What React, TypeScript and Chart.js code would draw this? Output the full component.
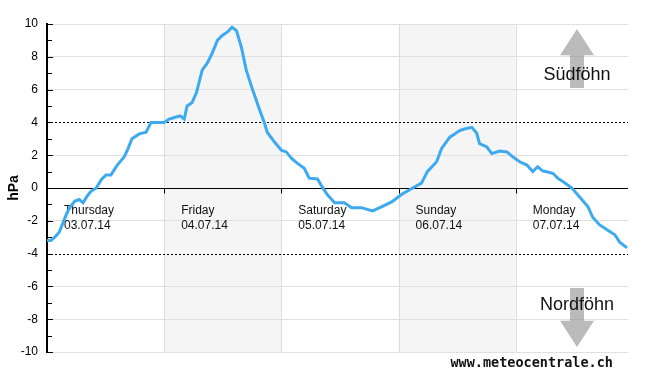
import React, { useEffect, useRef } from "react";
import { Chart, registerables } from "chart.js";

Chart.register(...registerables);

// Time axis in hours since Thursday 03.07.14 00:00
const hours: number[] = [
  0, 0.8, 1.6, 2.5, 3.3, 4.1, 4.9, 5.7, 6.6, 7.4, 8.2, 9.0, 10.1, 11.1, 12.1, 13.1, 14.4, 15.8, 16.6, 17.4,
  18.9, 20.3, 21.3, 22.6, 24.0, 25.0, 26.1, 27.3, 28.1, 28.7, 29.7, 30.6, 31.8, 32.8, 33.8, 34.9, 35.9, 36.9,
  37.9, 38.8, 39.8, 40.8, 42.1, 43.5, 44.5, 45.1, 46.6, 48.0, 49.0, 50.1, 51.3, 52.7, 53.7, 55.4, 56.4, 57.4,
  58.9, 60.9, 62.4, 64.4, 65.6, 66.7, 68.5, 70.6, 72.6, 74.9, 76.7, 77.9, 79.8, 80.8, 82.5, 83.5, 84.5, 85.5,
  87.0, 88.0, 88.6, 90.1, 91.1, 92.7, 94.2, 95.4, 96.8, 98.3, 99.5, 100.5, 101.5, 103.6, 104.6, 106.1, 107.5,
  109.1, 110.8, 111.8, 113.2, 114.7, 116.3, 117.3, 118.8,
];
const pressureDiff: number[] = [
  -3.2, -3.2, -3.0, -2.7, -2.1, -1.5, -1.1, -0.8, -0.7, -0.9, -0.5, -0.2, 0.0, 0.5, 0.8, 0.8, 1.4, 1.9, 2.4, 3.0,
  3.3, 3.4, 4.0, 4.0, 4.0, 4.2, 4.3, 4.4, 4.2, 5.0, 5.2, 5.8, 7.2, 7.6, 8.2, 9.0, 9.3, 9.5,
  9.8, 9.6, 8.6, 7.2, 6.0, 4.8, 4.0, 3.4, 2.8, 2.3, 2.2, 1.8, 1.5, 1.2, 0.6, 0.55, 0.05, -0.4,
  -0.9, -0.9, -1.2, -1.2, -1.3, -1.4, -1.15, -0.85, -0.4, 0.0, 0.3, 1.0, 1.6, 2.4, 3.1, 3.3, 3.5, 3.6,
  3.7, 3.35, 2.7, 2.5, 2.1, 2.25, 2.2, 1.9, 1.6, 1.4, 1.0, 1.3, 1.05, 0.9, 0.6, 0.3, 0.0,
  -0.55, -1.15, -1.8, -2.25, -2.55, -2.85, -3.3, -3.65,
];

const dayStarts: number[] = [0, 24, 48, 72, 96];
const dayNames: string[] = ["Thursday", "Friday", "Saturday", "Sunday", "Monday"];
const dayDates: string[] = ["03.07.14", "04.07.14", "05.07.14", "06.07.14", "07.07.14"];
const shadedDays: number[] = [1, 3];
const thresholds: number[] = [4, -4];
const yTicksMinor: number[] = [-9, -7, -5, -3, -1, 1, 3, 5, 7, 9];
const upLabel = "Südföhn";
const downLabel = "Nordföhn";
const watermark = "www.meteocentrale.ch";
const X_MAX = 119;

const decorPlugin = {
  id: "decor",
  beforeDraw(chart: any) {
    const { ctx, chartArea, scales } = chart;
    const x = scales.x;
    ctx.save();
    ctx.fillStyle = "#f5f5f5";
    shadedDays.forEach((d) => {
      const x0 = x.getPixelForValue(dayStarts[d]);
      const x1 = x.getPixelForValue(Math.min(dayStarts[d] + 24, X_MAX));
      ctx.fillRect(x0, chartArea.top, x1 - x0, chartArea.bottom - chartArea.top);
    });
    ctx.restore();
  },
  beforeDatasetsDraw(chart: any) {
    const { ctx, chartArea, scales } = chart;
    const x = scales.x;
    const y = scales.y;
    ctx.save();
    // vertical day lines
    ctx.strokeStyle = "#dcdcdc";
    ctx.lineWidth = 1;
    dayStarts.slice(1).forEach((h) => {
      const px = Math.round(x.getPixelForValue(h)) + 0.5;
      ctx.beginPath();
      ctx.moveTo(px, chartArea.top);
      ctx.lineTo(px, chartArea.bottom);
      ctx.stroke();
    });
    // zero line
    const y0 = Math.round(y.getPixelForValue(0)) + 0.5;
    ctx.strokeStyle = "#000";
    ctx.beginPath();
    ctx.moveTo(chartArea.left, y0);
    ctx.lineTo(chartArea.right, y0);
    ctx.stroke();
    // day ticks on zero line
    dayStarts.slice(1).forEach((h) => {
      const px = Math.round(x.getPixelForValue(h)) + 0.5;
      ctx.beginPath();
      ctx.moveTo(px, y0);
      ctx.lineTo(px, y0 + 5);
      ctx.stroke();
    });
    // dashed thresholds
    ctx.setLineDash([2, 2]);
    thresholds.forEach((t) => {
      const py = Math.round(y.getPixelForValue(t)) + 0.5;
      ctx.beginPath();
      ctx.moveTo(chartArea.left, py);
      ctx.lineTo(chartArea.right, py);
      ctx.stroke();
    });
    ctx.setLineDash([]);
    // y ticks (major inward + minor)
    ctx.lineWidth = 1;
    for (let v = -10; v <= 10; v += 2) {
      const py = Math.round(y.getPixelForValue(v)) + 0.5;
      ctx.beginPath();
      ctx.moveTo(chartArea.left, py);
      ctx.lineTo(chartArea.left + 6, py);
      ctx.stroke();
    }
    yTicksMinor.forEach((v) => {
      const py = Math.round(y.getPixelForValue(v)) + 0.5;
      ctx.beginPath();
      ctx.moveTo(chartArea.left, py);
      ctx.lineTo(chartArea.left + 5, py);
      ctx.stroke();
    });
    // day labels
    ctx.fillStyle = "#111";
    ctx.font = "12px 'Liberation Sans', Arial, sans-serif";
    ctx.textAlign = "left";
    ctx.textBaseline = "alphabetic";
    dayStarts.forEach((h, i) => {
      const px = x.getPixelForValue(h) + 17;
      ctx.fillText(dayNames[i], px, y0 + 25);
      ctx.fillText(dayDates[i], px, y0 + 40);
    });
    ctx.restore();
  },
  afterDraw(chart: any) {
    const { ctx, chartArea, scales } = chart;
    const y = scales.y;
    const cx = 577;
    ctx.save();
    ctx.fillStyle = "rgba(150,150,150,0.65)";
    // up arrow
    const upTip = y.getPixelForValue(9.7);
    const upBase = y.getPixelForValue(8.1);
    const upEnd = y.getPixelForValue(6.1);
    ctx.beginPath();
    ctx.moveTo(cx, upTip);
    ctx.lineTo(cx + 17, upBase);
    ctx.lineTo(cx + 7, upBase);
    ctx.lineTo(cx + 7, upEnd);
    ctx.lineTo(cx - 7, upEnd);
    ctx.lineTo(cx - 7, upBase);
    ctx.lineTo(cx - 17, upBase);
    ctx.closePath();
    ctx.fill();
    // down arrow
    const dnStart = y.getPixelForValue(-6.1);
    const dnBase = y.getPixelForValue(-8.1);
    const dnTip = y.getPixelForValue(-9.7);
    ctx.beginPath();
    ctx.moveTo(cx - 7, dnStart);
    ctx.lineTo(cx + 7, dnStart);
    ctx.lineTo(cx + 7, dnBase);
    ctx.lineTo(cx + 17, dnBase);
    ctx.lineTo(cx, dnTip);
    ctx.lineTo(cx - 17, dnBase);
    ctx.lineTo(cx - 7, dnBase);
    ctx.closePath();
    ctx.fill();
    // labels
    ctx.fillStyle = "#111";
    ctx.font = "18px 'Liberation Sans', Arial, sans-serif";
    ctx.textAlign = "center";
    ctx.textBaseline = "alphabetic";
    ctx.fillText(upLabel, cx, y.getPixelForValue(7) + 7);
    ctx.fillText(downLabel, cx, y.getPixelForValue(-7) + 7);
    // watermark
    ctx.font = "bold 13.5px 'DejaVu Sans Mono', monospace";
    ctx.textAlign = "right";
    ctx.fillText(watermark, 613, chartArea.bottom + 15);
    ctx.restore();
  },
};

export default function App() {
  const canvasRef = useRef<HTMLCanvasElement | null>(null);

  useEffect(() => {
    document.body.style.margin = "0";
    const canvas = canvasRef.current;
    if (!canvas) return;
    const points = hours.map((h, i) => ({ x: h, y: pressureDiff[i] }));
    const chart = new Chart(canvas, {
      type: "line",
      data: {
        datasets: [
          {
            data: points,
            borderColor: "#3daaf0",
            borderWidth: 3,
            pointRadius: 0,
            tension: 0,
            fill: false,
          },
        ],
      },
      options: {
        animation: false,
        responsive: false,
        devicePixelRatio: 1,
        layout: { padding: { left: 0, top: 24, right: 22, bottom: 23 } },
        plugins: { legend: { display: false }, tooltip: { enabled: false } },
        scales: {
          x: { type: "linear", min: 0, max: X_MAX, display: false },
          y: {
            min: -10,
            max: 10,
            afterFit: (scale: any) => {
              scale.width = 47;
            },
            ticks: {
              stepSize: 2,
              padding: 9,
              color: "#000",
              font: { family: "'Liberation Sans', Arial, sans-serif", size: 12 },
            },
            grid: {
              drawTicks: false,
              color: (c: any) => {
                const v = c.tick ? c.tick.value : null;
                if (v === 0 || v === 4 || v === -4) return "rgba(0,0,0,0)";
                return "#e0e0e0";
              },
            },
            border: { display: true, color: "#000", width: 2 },
            title: {
              display: true,
              text: "hPa",
              color: "#000",
              padding: { top: 6, bottom: 0 },
              font: { family: "'Liberation Sans', Arial, sans-serif", size: 14, weight: "bold" },
            },
          },
        },
      },
      plugins: [decorPlugin],
    });
    return () => chart.destroy();
  }, []);

  return (
    <div style={{ width: 650, height: 375 }}>
      <canvas ref={canvasRef} width={650} height={375} />
    </div>
  );
}
